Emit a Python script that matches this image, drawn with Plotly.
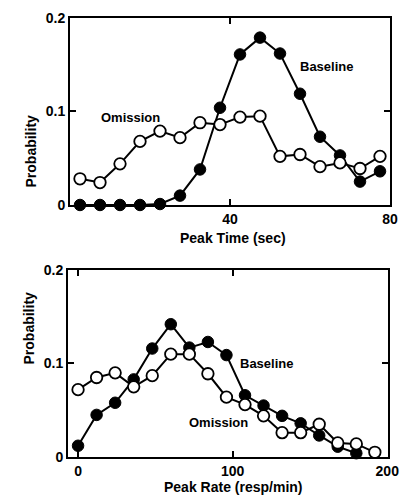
import plotly.graph_objects as go

# top panel: peak time distribution
time_x = [2.5, 7.5, 12.5, 17.5, 22.5, 27.5, 32.5, 37.5, 42.5, 47.5, 52.5, 57.5, 62.5, 67.5, 72.5, 77.5]
time_baseline = [0.0, 0.0, 0.0, 0.0, 0.001, 0.010, 0.038, 0.104, 0.161, 0.179, 0.162, 0.119, 0.073, 0.053, 0.025, 0.036]
time_omission = [0.028, 0.024, 0.044, 0.068, 0.079, 0.072, 0.088, 0.086, 0.094, 0.095, 0.052, 0.054, 0.041, 0.045, 0.039, 0.052]

# bottom panel: peak rate distribution
rate_x_base = [0, 12, 24, 36, 48, 60, 72, 84, 96, 108, 120, 132, 144, 156, 168, 180]
rate_baseline = [0.012, 0.045, 0.058, 0.083, 0.116, 0.142, 0.117, 0.123, 0.109, 0.066, 0.055, 0.044, 0.036, 0.023, 0.011, 0.004]
rate_x_omit = [0, 12, 24, 36, 48, 60, 72, 84, 96, 108, 120, 132, 144, 156, 168, 180, 192]
rate_omission = [0.072, 0.085, 0.090, 0.075, 0.087, 0.110, 0.110, 0.089, 0.064, 0.056, 0.044, 0.026, 0.026, 0.035, 0.015, 0.014, 0.005]

FONT = "Liberation Sans"

fig = go.Figure()


def add_pair(xb, yb, xo, yo, xa, ya):
    fig.add_trace(go.Scatter(
        x=xb, y=yb, mode="lines+markers", xaxis=xa, yaxis=ya,
        line=dict(color="black", width=2),
        marker=dict(size=11.5, color="black", line=dict(color="black", width=1)),
        showlegend=False, cliponaxis=False,
    ))
    fig.add_trace(go.Scatter(
        x=xo, y=yo, mode="lines+markers", xaxis=xa, yaxis=ya,
        line=dict(color="black", width=2),
        marker=dict(size=11.5, color="white", line=dict(color="black", width=1.8)),
        showlegend=False, cliponaxis=False,
    ))


add_pair(time_x, time_baseline, time_x, time_omission, "x", "y")
add_pair(rate_x_base, rate_baseline, rate_x_omit, rate_omission, "x2", "y2")

axis_style = dict(
    showgrid=False, zeroline=False, showline=True, linecolor="black", linewidth=2,
    mirror="ticks", ticks="inside", ticklen=6, tickwidth=1.5, tickcolor="black",
    automargin=False,
    tickfont=dict(family=FONT, size=14, color="black", weight="bold"),
)

fig.update_layout(
    width=400, height=504,
    margin=dict(l=0, r=0, t=0, b=0),
    paper_bgcolor="white", plot_bgcolor="white",
    font=dict(family=FONT, color="black"),
    xaxis=dict(domain=[0.175, 0.975], range=[0, 80], tickvals=[40, 80],
               anchor="y", **axis_style),
    yaxis=dict(domain=[0.5933, 0.9643], range=[0, 0.2], tickvals=[0, 0.1, 0.2],
               ticktext=["0", "0.1", "0.2"], anchor="x", **axis_style),
    xaxis2=dict(domain=[0.17, 0.97], range=[-6.5, 200.5], tickvals=[0, 100, 200],
                anchor="y2", **axis_style),
    yaxis2=dict(domain=[0.0933, 0.4643], range=[0, 0.2], tickvals=[0, 0.1, 0.2],
                ticktext=["0", "0.1", "0.2"], anchor="x2", **axis_style),
)

title_font = dict(family=FONT, size=14, color="black", weight="bold")
# axis titles placed in paper coordinates
fig.add_annotation(x=233 / 400, y=1 - 238 / 504, xref="paper", yref="paper",
                   text="Peak Time (sec)", showarrow=False, font=title_font)
fig.add_annotation(x=233 / 400, y=1 - 497 / 504, xref="paper", yref="paper",
                   text="Peak Rate (resp/min)", showarrow=False, font=title_font)
fig.add_annotation(x=20 / 400, y=1 - 113 / 504, xref="paper", yref="paper",
                   text="Probability", textangle=-90, showarrow=False, font=title_font)
fig.add_annotation(x=18 / 400, y=1 - 367 / 504, xref="paper", yref="paper",
                   text="Probability", textangle=-90, showarrow=False, font=title_font)

ann_font = dict(family=FONT, size=13, color="black", weight="bold")
fig.add_annotation(x=64, y=0.148, xref="x", yref="y", text="Baseline", showarrow=False, font=ann_font)
fig.add_annotation(x=15, y=0.094, xref="x", yref="y", text="Omission", showarrow=False, font=ann_font)
fig.add_annotation(x=122, y=0.100, xref="x2", yref="y2", text="Baseline", showarrow=False, font=ann_font)
fig.add_annotation(x=91, y=0.037, xref="x2", yref="y2", text="Omission", showarrow=False, font=ann_font)

# page body has a default 8px margin; drop it so the figure fills the window
fig.write_html("out.html", config={"displayModeBar": False},
               post_script="document.body.style.margin='0';")
